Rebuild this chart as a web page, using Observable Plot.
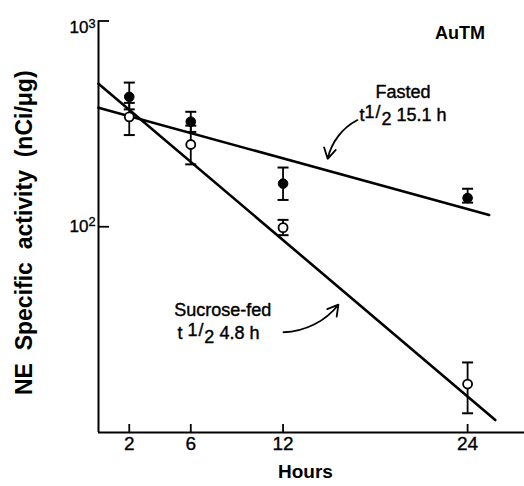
<!DOCTYPE html>
<html>
<head>
<meta charset="utf-8">
<script src="https://cdn.jsdelivr.net/npm/d3@7"></script>
<script src="https://cdn.jsdelivr.net/npm/@observablehq/plot@0.6"></script>
<style>
  html, body { margin: 0; padding: 0; background: #fff; }
</style>
</head>
<body>
<div id="chart"></div>
<script>
// ---- data ----
const hours = [2, 6, 12, 24];
const fastedMean = [428, 324, 162, 138];
const fastedLow  = [372, 289, 135, 131];
const fastedHigh = [502, 362, 194, 153];
const sucroseMean = [342, 251, 99, 17.2];
const sucroseLow  = [279, 201, 91, 12.4];
const sucroseHigh = [400, 310, 108, 21.9];

// fitted regression lines (end points)
const fastedFitHours = [0, 25.4];
const fastedFitValues = [379, 114];
const sucroseFitHours = [0, 25.8];
const sucroseFitValues = [496, 11.5];

const yTicks = [100, 1000];
const yTickLabels = ["10²", "10³"];

// annotations
const titleLabel = [{text: "AuTM", h: 23.5, v: 869}];
const labels = [
  {text: "Fasted", h: 19.8, v: 452},
  {text: "t½ 15.1 h", h: 19.8, v: 350},
  {text: "Sucrose-fed", h: 8.08, v: 39.4},
  {text: "t ½ 4.8 h", h: 7.8, v: 30.4}
];
const arrows = [
  {h1: 16.84, v1: 330, h2: 14.9, v2: 214},
  {h1: 12.03, v1: 30.7, h2: 15.6, v2: 41.8}
];

const fasted = hours.map((h, i) => ({h, mean: fastedMean[i], low: fastedLow[i], high: fastedHigh[i]}));
const sucrose = hours.map((h, i) => ({h, mean: sucroseMean[i], low: sucroseLow[i], high: sucroseHigh[i]}));
const fastedFit = fastedFitHours.map((h, i) => ({h, v: fastedFitValues[i]}));
const sucroseFit = sucroseFitHours.map((h, i) => ({h, v: sucroseFitValues[i]}));

const cap = {
  draw(context, size) {
    const r = Math.sqrt(size / Math.PI);
    context.moveTo(-r, 0);
    context.lineTo(r, 0);
  }
};

const font = "Liberation Sans, Arial, sans-serif";

const errorMarks = (data) => [
  Plot.ruleX(data, {x: "h", y1: "low", y2: "high", stroke: "black", strokeWidth: 1.8}),
  Plot.dot(data, {x: "h", y: "low", symbol: cap, r: 5.5, stroke: "black", strokeWidth: 2}),
  Plot.dot(data, {x: "h", y: "high", symbol: cap, r: 5.5, stroke: "black", strokeWidth: 2})
];

const chart = Plot.plot({
  width: 524,
  height: 486,
  marginLeft: 98,
  marginRight: 0,
  marginTop: 20.5,
  marginBottom: 54,
  style: {fontFamily: font, fontSize: "17px", color: "black", background: "white", overflow: "visible"},
  x: {domain: [0, 27.7]},
  y: {type: "log", domain: [10, 1000]},
  marks: [
    Plot.axisX({ticks: hours, tickSize: -8, tickPadding: 12, label: null, fontSize: 19, strokeWidth: 1.8}),
    Plot.axisY({ticks: yTicks, tickSize: -11, tickPadding: 14, label: null, fontSize: 16, strokeWidth: 1.8,
      tickFormat: (d) => yTickLabels[yTicks.indexOf(d)]}),
    Plot.ruleX([0], {stroke: "black", strokeWidth: 2}),
    Plot.ruleY([10], {stroke: "black", strokeWidth: 2}),
    Plot.line(fastedFit, {x: "h", y: "v", stroke: "black", strokeWidth: 2.6}),
    Plot.line(sucroseFit, {x: "h", y: "v", stroke: "black", strokeWidth: 2.6}),
    ...errorMarks(sucrose),
    Plot.dot(sucrose, {x: "h", y: "mean", r: 4.5, fill: "white", stroke: "black", strokeWidth: 1.8}),
    ...errorMarks(fasted),
    Plot.dot(fasted, {x: "h", y: "mean", r: 4.8, fill: "black", stroke: "black", strokeWidth: 1}),
    Plot.arrow(arrows, {x1: "h1", y1: "v1", x2: "h2", y2: "v2", bend: -25, headLength: 10, stroke: "black", strokeWidth: 1.8}),
    Plot.text(titleLabel, {x: "h", y: "v", text: "text", fontSize: 18, fontWeight: "bold", fill: "black"}),
    Plot.text(labels, {x: "h", y: "v", text: "text", fontSize: 18, fill: "black", stroke: "black", strokeWidth: 0.4}),
    Plot.text(["NE  Specific  activity  (nCi/μg)"], {frameAnchor: "left", textAnchor: "middle", dx: -74, dy: 6, rotate: -90, fontSize: 23, fontWeight: "bold", fill: "black"}),
    Plot.text(["Hours"], {frameAnchor: "bottom", dx: -6, dy: 45, fontSize: 19, fontWeight: "bold", fill: "black"})
  ]
});

// typographic touch-ups
const svg = d3.select(chart);
svg.selectAll('g[aria-label="x-axis tick label"]')
  .attr("stroke", "black").attr("stroke-width", 0.35)
  .selectAll("text").style("font-size", "19px");
svg.selectAll('g[aria-label="y-axis tick label"]')
  .attr("stroke", "black").attr("stroke-width", 0.35)
  .selectAll("text").style("font-size", "17px");

svg.selectAll("text").each(function () {
  const el = d3.select(this);
  const txt = this.textContent;
  if (/^10[²³]$/.test(txt)) {
    const sup = txt.endsWith("³") ? "3" : "2";
    el.text("10");
    el.append("tspan").attr("dy", "-0.45em").attr("font-size", "0.75em").text(sup);
    if (sup === "3") el.attr("transform", (el.attr("transform") || "") + " translate(0,7)");
  } else if (txt.includes("½")) {
    const [lead, rest] = txt.split("½");
    el.text(lead);
    el.append("tspan").attr("dy", "-0.15em").text("1");
    el.append("tspan").attr("dx", "0.05em").text("/");
    el.append("tspan").attr("dy", "0.4em").attr("dx", "0.05em").text("2");
    el.append("tspan").attr("dy", "-0.25em").text(rest);
  }
});

document.getElementById("chart").appendChild(chart);
</script>
</body>
</html>
